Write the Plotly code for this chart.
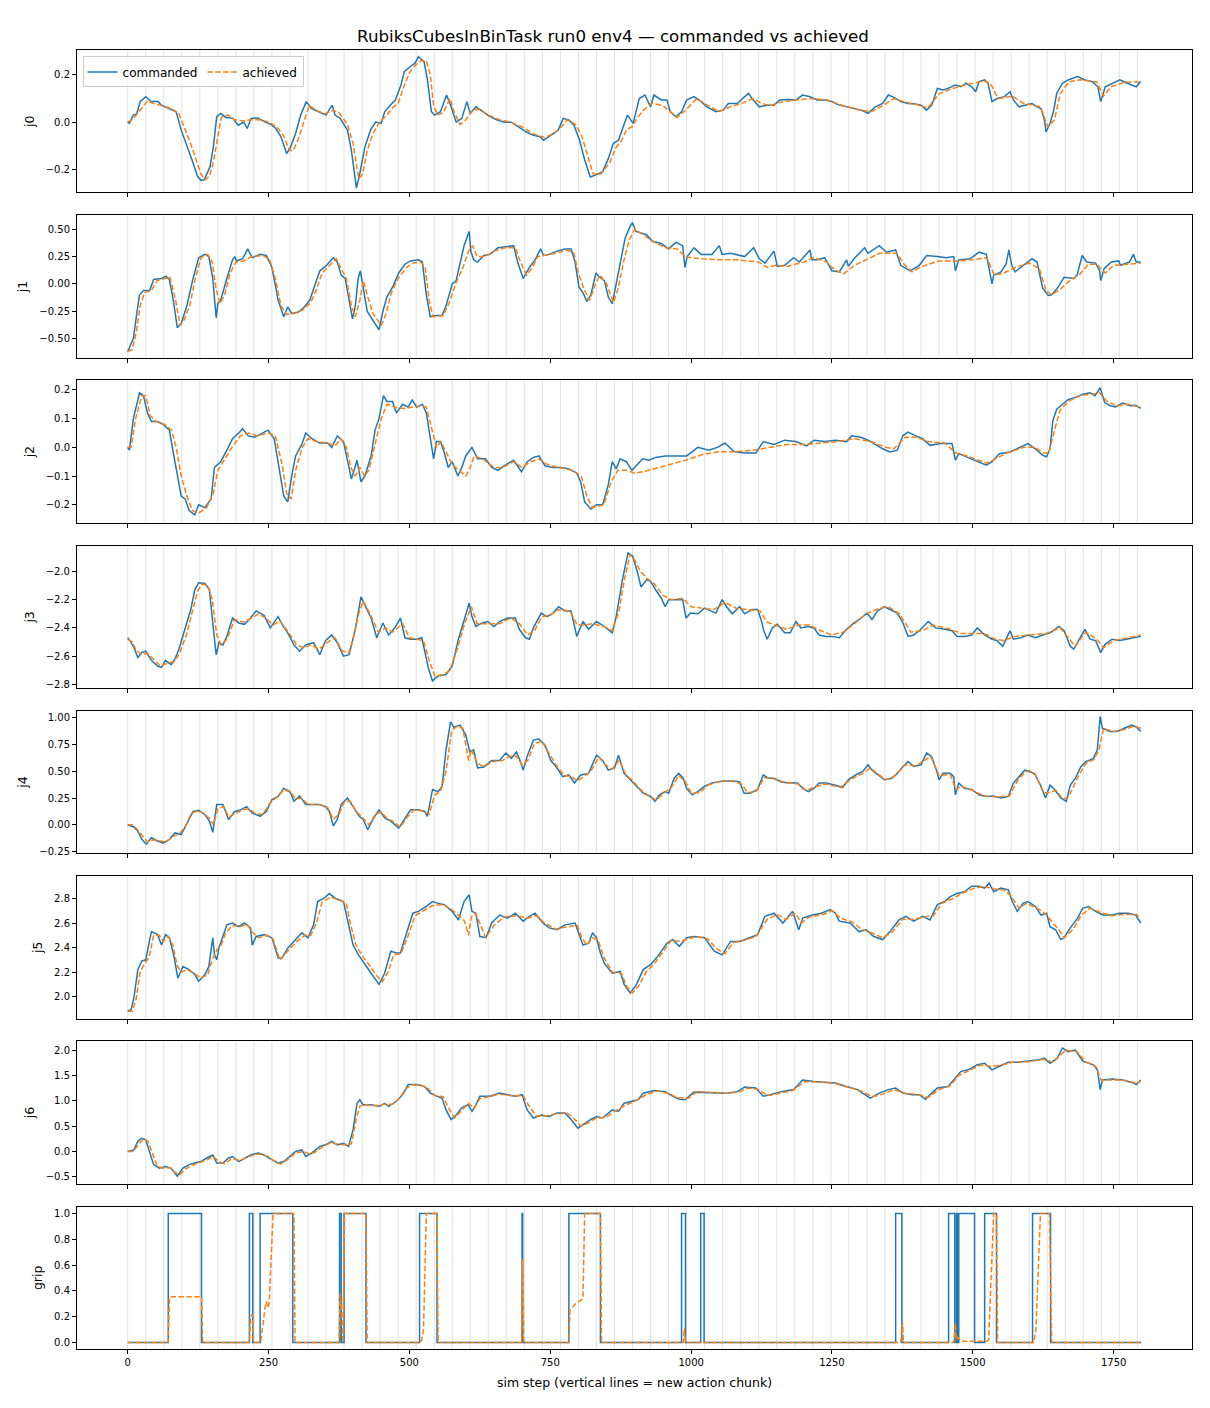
import plotly.graph_objects as go
from plotly.subplots import make_subplots

# sim steps where a new action chunk starts (every 32 steps)
chunk_starts = list(range(0, 1800, 32))

j0_steps = [0, 3, 10, 16, 22, 32, 41, 54, 60, 73, 86, 95, 105, 114, 124, 130, 136, 146, 152, 158, 165, 174, 187, 196, 206, 212, 219, 231, 244, 253, 263, 272, 282, 288, 298, 307, 317, 326, 339, 352, 363, 368, 377, 390, 397, 406, 412, 421, 431, 440, 450, 456, 466, 475, 485, 491, 501, 510, 516, 526, 532, 539, 545, 555, 566, 573, 583, 593, 602, 608, 618, 631, 643, 656, 669, 681, 694, 707, 719, 732, 738, 751, 764, 773, 783, 792, 802, 811, 821, 830, 843, 853, 862, 871, 881, 887, 897, 908, 918, 928, 934, 947, 957, 963, 973, 983, 992, 1005, 1018, 1028, 1044, 1057, 1066, 1082, 1095, 1102, 1108, 1121, 1134, 1147, 1157, 1173, 1186, 1198, 1211, 1224, 1237, 1250, 1263, 1276, 1289, 1302, 1314, 1327, 1340, 1350, 1360, 1372, 1385, 1398, 1408, 1418, 1427, 1437, 1447, 1456, 1469, 1479, 1488, 1498, 1505, 1511, 1521, 1527, 1534, 1543, 1556, 1566, 1572, 1582, 1592, 1605, 1614, 1621, 1627, 1630, 1637, 1643, 1649, 1659, 1669, 1686, 1699, 1712, 1722, 1727, 1735, 1748, 1761, 1774, 1784, 1790, 1798]
j0_cmd = [0.0, -0.005, 0.03, 0.035, 0.087, 0.108, 0.087, 0.087, 0.072, 0.058, 0.044, -0.034, -0.098, -0.16, -0.23, -0.247, -0.244, -0.19, -0.105, 0.023, 0.037, 0.02, 0.016, -0.013, 0.0, -0.027, 0.016, 0.018, 0.0, -0.008, -0.027, -0.062, -0.133, -0.112, -0.048, 0.03, 0.087, 0.058, 0.044, 0.03, 0.072, 0.03, 0.016, -0.034, -0.12, -0.28, -0.218, -0.105, -0.034, 0.0, -0.005, 0.044, 0.072, 0.094, 0.157, 0.214, 0.235, 0.25, 0.278, 0.257, 0.179, 0.044, 0.03, 0.044, 0.115, 0.072, 0.0, 0.016, 0.087, 0.037, 0.065, 0.044, 0.023, 0.009, 0.0, 0.0, -0.02, -0.041, -0.055, -0.062, -0.077, -0.055, -0.034, 0.016, 0.009, -0.013, -0.077, -0.16, -0.233, -0.225, -0.21, -0.155, -0.09, -0.077, -0.013, 0.03, -0.005, 0.1, 0.115, 0.065, 0.115, 0.094, 0.094, 0.044, 0.023, 0.044, 0.094, 0.108, 0.087, 0.065, 0.044, 0.051, 0.079, 0.079, 0.108, 0.122, 0.1, 0.065, 0.072, 0.072, 0.094, 0.096, 0.094, 0.115, 0.108, 0.094, 0.094, 0.087, 0.072, 0.065, 0.058, 0.051, 0.037, 0.065, 0.079, 0.115, 0.105, 0.087, 0.079, 0.077, 0.072, 0.051, 0.072, 0.143, 0.136, 0.143, 0.157, 0.15, 0.165, 0.15, 0.129, 0.172, 0.179, 0.165, 0.087, 0.1, 0.108, 0.129, 0.094, 0.065, 0.072, 0.079, 0.065, 0.058, 0.009, -0.041, -0.006, 0.044, 0.122, 0.165, 0.179, 0.193, 0.179, 0.172, 0.15, 0.087, 0.15, 0.165, 0.179, 0.165, 0.157, 0.15, 0.172]
j0_ach_steps = [0, 8, 15, 25, 35, 45, 60, 75, 90, 100, 110, 120, 130, 137, 145, 152, 160, 166, 178, 190, 205, 220, 235, 250, 265, 277, 287, 294, 303, 312, 322, 335, 350, 365, 375, 390, 400, 410, 417, 425, 435, 447, 460, 470, 480, 490, 500, 510, 520, 530, 537, 543, 550, 560, 572, 580, 590, 600, 612, 625, 640, 660, 680, 700, 720, 740, 755, 770, 780, 795, 806, 816, 826, 840, 856, 866, 876, 886, 895, 905, 915, 930, 950, 965, 975, 990, 1010, 1030, 1050, 1070, 1090, 1110, 1125, 1140, 1160, 1190, 1210, 1240, 1270, 1300, 1320, 1340, 1360, 1380, 1400, 1420, 1440, 1460, 1490, 1520, 1532, 1545, 1570, 1590, 1620, 1633, 1645, 1655, 1670, 1690, 1720, 1732, 1745, 1770, 1798]
j0_ach = [0.0, 0.01, 0.03, 0.06, 0.09, 0.08, 0.07, 0.06, 0.04, -0.02, -0.08, -0.15, -0.22, -0.245, -0.23, -0.17, -0.06, 0.02, 0.03, 0.01, 0.005, 0.01, 0.01, 0.0, -0.02, -0.06, -0.12, -0.12, -0.07, 0.0, 0.07, 0.05, 0.035, 0.05, 0.04, -0.01, -0.09, -0.24, -0.22, -0.12, -0.05, 0.0, 0.03, 0.06, 0.08, 0.15, 0.21, 0.24, 0.26, 0.26, 0.2, 0.07, 0.03, 0.04, 0.1, 0.04, -0.01, 0.01, 0.05, 0.055, 0.03, 0.01, 0.0, -0.02, -0.05, -0.065, -0.05, -0.02, 0.01, -0.01, -0.06, -0.14, -0.22, -0.22, -0.17, -0.11, -0.08, -0.03, -0.02, 0.02, 0.05, 0.08, 0.07, 0.04, 0.02, 0.05, 0.1, 0.07, 0.045, 0.065, 0.08, 0.1, 0.08, 0.07, 0.085, 0.095, 0.1, 0.095, 0.07, 0.05, 0.045, 0.07, 0.1, 0.085, 0.075, 0.06, 0.12, 0.14, 0.16, 0.175, 0.16, 0.1, 0.11, 0.08, 0.065, -0.02, 0.01, 0.12, 0.17, 0.18, 0.17, 0.11, 0.15, 0.17, 0.17]

j1_steps = [0, 10, 18, 21, 28, 39, 46, 60, 68, 74, 81, 88, 95, 105, 116, 126, 137, 144, 151, 157, 160, 165, 176, 186, 190, 193, 204, 213, 221, 235, 246, 256, 267, 277, 284, 291, 302, 312, 323, 330, 341, 351, 358, 365, 372, 379, 386, 393, 399, 404, 409, 413, 418, 425, 435, 446, 453, 460, 471, 481, 492, 502, 516, 523, 530, 537, 548, 558, 565, 576, 583, 590, 597, 606, 609, 614, 621, 632, 643, 657, 671, 685, 692, 702, 713, 723, 733, 738, 748, 762, 776, 787, 794, 801, 808, 815, 822, 831, 836, 846, 853, 860, 867, 874, 883, 892, 896, 902, 921, 931, 947, 960, 973, 985, 989, 993, 1005, 1018, 1037, 1050, 1055, 1070, 1095, 1111, 1121, 1131, 1147, 1153, 1166, 1182, 1192, 1211, 1214, 1224, 1237, 1250, 1263, 1276, 1279, 1289, 1308, 1314, 1334, 1347, 1363, 1372, 1389, 1405, 1418, 1437, 1453, 1466, 1469, 1475, 1495, 1511, 1524, 1534, 1537, 1550, 1559, 1564, 1569, 1575, 1592, 1605, 1614, 1624, 1634, 1640, 1650, 1662, 1679, 1685, 1694, 1702, 1718, 1725, 1727, 1733, 1746, 1759, 1762, 1778, 1785, 1790, 1798]
j1_cmd = [-0.62, -0.5, -0.2, -0.1, -0.06, -0.06, 0.04, 0.05, 0.07, 0.04, -0.15, -0.4, -0.36, -0.2, 0.05, 0.24, 0.27, 0.25, 0.05, -0.31, -0.18, -0.15, 0.05, 0.22, 0.25, 0.21, 0.23, 0.32, 0.24, 0.27, 0.26, 0.15, -0.15, -0.3, -0.21, -0.27, -0.26, -0.22, -0.15, -0.05, 0.12, 0.16, 0.2, 0.24, 0.2, 0.08, 0.05, -0.15, -0.32, -0.2, 0.05, 0.12, -0.05, -0.25, -0.33, -0.42, -0.25, -0.12, -0.02, 0.1, 0.18, 0.21, 0.22, 0.2, -0.1, -0.3, -0.29, -0.29, -0.2, 0.0, 0.03, 0.2, 0.35, 0.48, 0.3, 0.22, 0.2, 0.26, 0.27, 0.33, 0.34, 0.35, 0.2, 0.05, 0.15, 0.22, 0.32, 0.26, 0.27, 0.3, 0.32, 0.32, 0.2, -0.03, -0.08, -0.16, -0.1, 0.1, 0.07, 0.03, -0.12, -0.18, 0.0, 0.2, 0.42, 0.53, 0.56, 0.48, 0.45, 0.39, 0.37, 0.32, 0.38, 0.35, 0.15, 0.25, 0.33, 0.27, 0.27, 0.35, 0.27, 0.28, 0.25, 0.33, 0.23, 0.19, 0.3, 0.16, 0.17, 0.24, 0.2, 0.31, 0.22, 0.22, 0.24, 0.12, 0.11, 0.22, 0.16, 0.23, 0.33, 0.28, 0.35, 0.29, 0.31, 0.17, 0.12, 0.17, 0.26, 0.25, 0.24, 0.25, 0.12, 0.22, 0.23, 0.29, 0.27, 0.0, 0.08, 0.11, 0.18, 0.31, 0.17, 0.11, 0.18, 0.23, 0.2, -0.04, -0.105, -0.1, -0.04, 0.06, 0.05, 0.08, 0.26, 0.2, 0.19, 0.12, 0.03, 0.14, 0.2, 0.21, 0.17, 0.2, 0.27, 0.2, 0.2]
j1_ach_steps = [0, 8, 15, 22, 30, 42, 52, 65, 75, 85, 93, 100, 110, 120, 130, 142, 150, 157, 164, 172, 182, 192, 205, 220, 240, 252, 262, 272, 282, 295, 310, 325, 335, 345, 360, 370, 378, 388, 397, 404, 412, 418, 425, 435, 450, 458, 468, 480, 495, 505, 520, 528, 535, 542, 560, 570, 582, 595, 605, 612, 620, 635, 650, 670, 688, 697, 708, 718, 728, 740, 760, 780, 792, 800, 810, 820, 830, 838, 850, 862, 870, 880, 890, 900, 915, 935, 955, 975, 990, 1000, 1020, 1050, 1080, 1100, 1120, 1135, 1150, 1170, 1200, 1218, 1240, 1255, 1270, 1290, 1310, 1335, 1350, 1365, 1378, 1392, 1410, 1440, 1470, 1500, 1525, 1538, 1555, 1575, 1600, 1618, 1630, 1640, 1655, 1670, 1690, 1705, 1720, 1735, 1750, 1775, 1798]
j1_ach = [-0.62, -0.6, -0.45, -0.2, -0.08, -0.06, 0.03, 0.05, 0.06, -0.15, -0.38, -0.33, -0.2, 0.05, 0.24, 0.27, 0.2, -0.05, -0.18, -0.1, 0.1, 0.2, 0.21, 0.25, 0.26, 0.22, 0.05, -0.2, -0.28, -0.27, -0.24, -0.17, -0.05, 0.1, 0.18, 0.23, 0.15, 0.05, -0.2, -0.3, -0.15, 0.03, -0.1, -0.27, -0.38, -0.28, -0.08, 0.05, 0.15, 0.19, 0.2, 0.15, -0.15, -0.3, -0.29, -0.18, 0.0, 0.15, 0.3, 0.35, 0.25, 0.25, 0.3, 0.33, 0.33, 0.2, 0.08, 0.15, 0.25, 0.26, 0.28, 0.31, 0.28, 0.1, -0.05, -0.15, 0.0, 0.08, 0.0, -0.17, -0.05, 0.2, 0.4, 0.5, 0.45, 0.38, 0.33, 0.32, 0.25, 0.24, 0.23, 0.22, 0.22, 0.21, 0.2, 0.15, 0.17, 0.16, 0.2, 0.24, 0.2, 0.13, 0.09, 0.17, 0.22, 0.28, 0.28, 0.28, 0.18, 0.11, 0.16, 0.21, 0.21, 0.22, 0.24, 0.08, 0.1, 0.15, 0.19, 0.14, -0.06, -0.1, -0.05, 0.02, 0.09, 0.18, 0.18, 0.1, 0.17, 0.18, 0.19]

j2_steps = [0, 3, 10, 21, 28, 35, 42, 53, 63, 74, 81, 88, 95, 102, 109, 119, 126, 137, 148, 154, 165, 176, 186, 197, 204, 214, 225, 235, 249, 260, 270, 277, 284, 291, 298, 309, 316, 327, 341, 355, 362, 372, 383, 390, 397, 402, 407, 414, 421, 432, 439, 446, 454, 460, 470, 477, 488, 498, 505, 513, 523, 530, 537, 543, 548, 555, 562, 569, 576, 586, 593, 600, 611, 621, 635, 646, 657, 671, 685, 699, 709, 720, 730, 741, 755, 769, 783, 797, 804, 811, 822, 832, 843, 853, 860, 867, 874, 885, 895, 905, 914, 925, 937, 954, 973, 992, 1012, 1031, 1047, 1060, 1076, 1095, 1115, 1128, 1147, 1166, 1186, 1205, 1218, 1237, 1256, 1276, 1285, 1301, 1314, 1327, 1340, 1353, 1366, 1376, 1385, 1398, 1411, 1424, 1443, 1463, 1469, 1475, 1488, 1501, 1514, 1524, 1534, 1547, 1566, 1579, 1592, 1598, 1611, 1624, 1631, 1637, 1642, 1649, 1656, 1669, 1682, 1695, 1708, 1717, 1726, 1734, 1744, 1753, 1766, 1779, 1789, 1798]
j2_cmd = [0.0, -0.01, 0.1, 0.19, 0.18, 0.12, 0.09, 0.09, 0.08, 0.06, -0.02, -0.1, -0.17, -0.18, -0.22, -0.235, -0.2, -0.21, -0.18, -0.07, -0.05, -0.01, 0.03, 0.05, 0.065, 0.04, 0.035, 0.045, 0.06, 0.03, -0.08, -0.17, -0.19, -0.1, -0.03, 0.01, 0.05, 0.03, 0.015, 0.015, 0.0, 0.04, 0.02, -0.04, -0.11, -0.08, -0.045, -0.12, -0.1, -0.03, 0.06, 0.1, 0.18, 0.16, 0.16, 0.12, 0.15, 0.14, 0.165, 0.14, 0.15, 0.12, 0.03, -0.04, 0.02, 0.02, -0.02, -0.07, -0.05, -0.1, -0.07, -0.03, 0.0, -0.04, -0.04, -0.07, -0.08, -0.06, -0.045, -0.085, -0.05, -0.035, -0.03, -0.065, -0.07, -0.07, -0.075, -0.09, -0.12, -0.19, -0.215, -0.2, -0.2, -0.13, -0.05, -0.075, -0.04, -0.05, -0.08, -0.06, -0.04, -0.045, -0.035, -0.03, -0.03, -0.03, 0.0, -0.01, 0.0, 0.015, -0.015, -0.02, -0.02, 0.02, 0.01, 0.025, 0.02, 0.005, 0.025, 0.02, 0.025, 0.02, 0.04, 0.035, 0.025, 0.01, -0.005, -0.016, -0.01, 0.041, 0.053, 0.041, 0.03, 0.007, 0.013, 0.013, -0.045, -0.022, -0.033, -0.045, -0.056, -0.062, -0.05, -0.022, -0.016, -0.005, 0.007, 0.013, -0.005, -0.028, -0.033, -0.005, 0.093, 0.133, 0.145, 0.166, 0.174, 0.185, 0.19, 0.18, 0.208, 0.156, 0.145, 0.141, 0.154, 0.145, 0.147, 0.136]
j2_ach_steps = [0, 6, 14, 25, 32, 40, 50, 65, 78, 86, 95, 105, 115, 125, 140, 152, 160, 172, 185, 200, 215, 230, 250, 262, 274, 282, 290, 298, 310, 320, 335, 355, 368, 378, 388, 396, 404, 412, 420, 428, 438, 450, 460, 475, 490, 505, 520, 530, 540, 548, 556, 566, 576, 588, 600, 606, 615, 630, 650, 665, 685, 700, 715, 730, 745, 765, 790, 805, 815, 825, 845, 858, 870, 885, 900, 915, 935, 960, 990, 1020, 1050, 1080, 1110, 1140, 1170, 1200, 1230, 1260, 1290, 1320, 1345, 1360, 1380, 1400, 1420, 1450, 1470, 1490, 1510, 1525, 1540, 1560, 1590, 1610, 1625, 1635, 1645, 1655, 1670, 1690, 1710, 1725, 1738, 1755, 1775, 1798]
j2_ach = [0.0, 0.0, 0.1, 0.18, 0.18, 0.11, 0.09, 0.08, 0.06, 0.0, -0.1, -0.17, -0.22, -0.23, -0.21, -0.16, -0.08, -0.04, 0.0, 0.04, 0.05, 0.04, 0.05, 0.04, -0.06, -0.16, -0.18, -0.08, 0.0, 0.03, 0.02, 0.015, 0.005, 0.03, 0.0, -0.07, -0.1, -0.07, -0.1, -0.08, 0.0, 0.1, 0.15, 0.14, 0.135, 0.14, 0.145, 0.14, 0.06, 0.0, 0.02, -0.02, -0.06, -0.08, -0.1, -0.08, -0.03, -0.04, -0.07, -0.07, -0.05, -0.07, -0.05, -0.04, -0.06, -0.07, -0.08, -0.1, -0.17, -0.21, -0.2, -0.12, -0.08, -0.08, -0.09, -0.085, -0.075, -0.06, -0.045, -0.025, -0.015, -0.015, -0.01, 0.0, 0.01, 0.01, 0.015, 0.02, 0.03, 0.02, 0.0, -0.005, 0.035, 0.035, 0.02, 0.015, -0.02, -0.03, -0.045, -0.055, -0.04, -0.02, 0.0, 0.0, -0.02, -0.02, 0.06, 0.13, 0.16, 0.18, 0.185, 0.19, 0.16, 0.145, 0.15, 0.14]

j3_steps = [0, 4, 11, 18, 25, 32, 42, 53, 60, 67, 77, 84, 91, 102, 112, 119, 126, 137, 145, 151, 157, 162, 169, 176, 186, 197, 207, 218, 228, 242, 253, 267, 274, 284, 295, 305, 316, 330, 341, 351, 362, 372, 383, 393, 404, 414, 421, 432, 442, 453, 463, 474, 484, 492, 502, 513, 522, 529, 534, 541, 551, 565, 576, 587, 597, 606, 611, 618, 629, 639, 650, 660, 674, 688, 695, 706, 713, 720, 734, 744, 755, 765, 776, 787, 797, 808, 818, 832, 846, 860, 867, 878, 888, 896, 905, 911, 921, 928, 937, 947, 954, 960, 973, 985, 991, 999, 1012, 1024, 1044, 1055, 1063, 1073, 1086, 1095, 1108, 1118, 1124, 1129, 1135, 1144, 1153, 1166, 1176, 1186, 1195, 1208, 1218, 1227, 1240, 1250, 1263, 1276, 1289, 1302, 1312, 1321, 1331, 1343, 1353, 1366, 1376, 1385, 1395, 1405, 1421, 1434, 1450, 1463, 1472, 1485, 1498, 1508, 1521, 1534, 1543, 1553, 1559, 1566, 1572, 1585, 1598, 1611, 1624, 1637, 1653, 1662, 1673, 1679, 1689, 1699, 1708, 1718, 1727, 1734, 1747, 1760, 1773, 1786, 1798]
j3_cmd = [-2.47, -2.49, -2.54, -2.61, -2.575, -2.565, -2.63, -2.67, -2.68, -2.63, -2.66, -2.62, -2.55, -2.41, -2.27, -2.13, -2.08, -2.085, -2.13, -2.365, -2.59, -2.505, -2.52, -2.46, -2.33, -2.365, -2.375, -2.33, -2.28, -2.31, -2.4, -2.32, -2.375, -2.435, -2.52, -2.565, -2.52, -2.505, -2.59, -2.49, -2.45, -2.505, -2.6, -2.59, -2.41, -2.18, -2.24, -2.33, -2.47, -2.365, -2.45, -2.4, -2.33, -2.47, -2.48, -2.48, -2.47, -2.6, -2.69, -2.775, -2.74, -2.73, -2.67, -2.48, -2.34, -2.225, -2.32, -2.39, -2.365, -2.355, -2.39, -2.355, -2.33, -2.33, -2.41, -2.47, -2.48, -2.4, -2.295, -2.32, -2.295, -2.25, -2.28, -2.28, -2.46, -2.355, -2.41, -2.355, -2.39, -2.435, -2.32, -2.06, -1.87, -1.89, -2.01, -2.11, -2.06, -2.07, -2.13, -2.19, -2.25, -2.2, -2.2, -2.2, -2.33, -2.295, -2.3, -2.26, -2.295, -2.2, -2.25, -2.3, -2.25, -2.3, -2.27, -2.27, -2.34, -2.42, -2.48, -2.4, -2.375, -2.435, -2.435, -2.355, -2.4, -2.39, -2.4, -2.45, -2.46, -2.46, -2.47, -2.41, -2.365, -2.33, -2.295, -2.34, -2.28, -2.25, -2.27, -2.295, -2.365, -2.46, -2.45, -2.42, -2.355, -2.4, -2.41, -2.42, -2.46, -2.46, -2.45, -2.4, -2.45, -2.48, -2.49, -2.53, -2.48, -2.42, -2.48, -2.47, -2.45, -2.47, -2.45, -2.435, -2.39, -2.42, -2.53, -2.55, -2.48, -2.41, -2.48, -2.49, -2.575, -2.52, -2.48, -2.49, -2.48, -2.47, -2.46]
j3_ach_steps = [0, 8, 15, 25, 35, 45, 58, 70, 82, 92, 105, 115, 124, 132, 142, 150, 158, 166, 176, 190, 205, 220, 232, 245, 258, 270, 285, 300, 312, 325, 340, 355, 368, 380, 392, 400, 410, 418, 430, 445, 458, 470, 488, 500, 515, 525, 535, 545, 560, 572, 585, 598, 610, 620, 640, 660, 680, 695, 710, 722, 735, 750, 765, 785, 798, 810, 825, 845, 860, 872, 882, 892, 900, 910, 922, 935, 950, 965, 985, 1000, 1020, 1040, 1060, 1080, 1100, 1122, 1135, 1150, 1170, 1190, 1210, 1230, 1250, 1270, 1290, 1310, 1335, 1350, 1370, 1390, 1410, 1430, 1460, 1480, 1500, 1520, 1540, 1555, 1575, 1600, 1630, 1655, 1670, 1682, 1700, 1720, 1732, 1750, 1775, 1798]
j3_ach = [-2.48, -2.5, -2.56, -2.59, -2.58, -2.62, -2.67, -2.65, -2.64, -2.58, -2.44, -2.28, -2.14, -2.09, -2.1, -2.2, -2.45, -2.52, -2.48, -2.34, -2.36, -2.33, -2.3, -2.33, -2.38, -2.35, -2.43, -2.52, -2.54, -2.52, -2.55, -2.5, -2.47, -2.56, -2.58, -2.48, -2.3, -2.21, -2.3, -2.43, -2.4, -2.43, -2.37, -2.47, -2.48, -2.49, -2.63, -2.74, -2.73, -2.7, -2.55, -2.37, -2.25, -2.37, -2.37, -2.37, -2.33, -2.37, -2.45, -2.42, -2.32, -2.31, -2.27, -2.28, -2.38, -2.38, -2.37, -2.39, -2.42, -2.28, -2.05, -1.88, -1.92, -2.0, -2.05, -2.09, -2.17, -2.2, -2.19, -2.25, -2.26, -2.27, -2.22, -2.26, -2.27, -2.28, -2.36, -2.38, -2.41, -2.38, -2.38, -2.42, -2.45, -2.43, -2.37, -2.3, -2.26, -2.25, -2.3, -2.43, -2.42, -2.38, -2.41, -2.44, -2.44, -2.44, -2.48, -2.49, -2.46, -2.45, -2.44, -2.4, -2.47, -2.53, -2.43, -2.48, -2.54, -2.49, -2.47, -2.45]

j4_steps = [0, 11, 18, 25, 33, 42, 53, 63, 74, 84, 95, 105, 116, 126, 137, 145, 151, 158, 169, 179, 190, 200, 211, 221, 235, 246, 256, 267, 277, 288, 295, 305, 316, 330, 341, 351, 358, 365, 372, 379, 390, 400, 411, 418, 426, 435, 446, 456, 467, 481, 492, 502, 516, 527, 532, 541, 551, 558, 565, 573, 579, 590, 600, 607, 614, 621, 632, 646, 660, 671, 681, 690, 697, 702, 709, 720, 730, 741, 751, 762, 772, 783, 793, 804, 818, 832, 843, 853, 864, 871, 881, 889, 902, 915, 928, 936, 944, 954, 960, 970, 978, 986, 992, 1002, 1012, 1024, 1037, 1057, 1076, 1086, 1094, 1105, 1118, 1128, 1137, 1147, 1160, 1173, 1189, 1198, 1208, 1218, 1227, 1240, 1256, 1269, 1279, 1292, 1305, 1314, 1321, 1331, 1343, 1356, 1366, 1376, 1385, 1395, 1408, 1418, 1427, 1436, 1440, 1447, 1460, 1466, 1469, 1475, 1485, 1498, 1511, 1524, 1537, 1550, 1563, 1572, 1582, 1592, 1601, 1611, 1621, 1629, 1637, 1645, 1656, 1666, 1673, 1682, 1692, 1701, 1714, 1721, 1726, 1730, 1743, 1756, 1769, 1782, 1791, 1798]
j4_cmd = [0.0, -0.02, -0.06, -0.135, -0.18, -0.12, -0.15, -0.17, -0.135, -0.075, -0.09, 0.02, 0.125, 0.135, 0.095, 0.035, -0.07, 0.19, 0.19, 0.05, 0.125, 0.14, 0.17, 0.11, 0.08, 0.125, 0.235, 0.265, 0.34, 0.31, 0.22, 0.27, 0.19, 0.19, 0.19, 0.17, 0.125, -0.01, 0.05, 0.19, 0.25, 0.17, 0.08, 0.05, -0.045, 0.05, 0.14, 0.065, 0.035, -0.03, 0.065, 0.14, 0.14, 0.125, 0.08, 0.33, 0.31, 0.36, 0.7, 0.96, 0.91, 0.93, 0.84, 0.68, 0.7, 0.53, 0.54, 0.6, 0.6, 0.67, 0.62, 0.68, 0.59, 0.51, 0.64, 0.79, 0.8, 0.74, 0.6, 0.53, 0.45, 0.465, 0.39, 0.465, 0.48, 0.65, 0.6, 0.51, 0.53, 0.65, 0.48, 0.435, 0.37, 0.295, 0.265, 0.22, 0.28, 0.31, 0.295, 0.435, 0.48, 0.435, 0.34, 0.28, 0.31, 0.36, 0.39, 0.41, 0.41, 0.4, 0.295, 0.295, 0.33, 0.465, 0.435, 0.435, 0.4, 0.39, 0.39, 0.34, 0.31, 0.34, 0.39, 0.39, 0.37, 0.35, 0.42, 0.465, 0.5, 0.56, 0.51, 0.465, 0.42, 0.435, 0.48, 0.545, 0.59, 0.545, 0.56, 0.67, 0.635, 0.5, 0.42, 0.48, 0.48, 0.45, 0.28, 0.39, 0.34, 0.33, 0.28, 0.265, 0.27, 0.25, 0.265, 0.39, 0.45, 0.51, 0.5, 0.465, 0.36, 0.25, 0.37, 0.33, 0.25, 0.22, 0.37, 0.435, 0.545, 0.59, 0.62, 0.7, 1.01, 0.9, 0.87, 0.87, 0.9, 0.93, 0.91, 0.87]
j4_ach_steps = [0, 8, 15, 25, 35, 45, 58, 68, 80, 92, 102, 112, 122, 135, 145, 152, 160, 170, 180, 192, 205, 215, 228, 240, 252, 265, 278, 290, 298, 308, 320, 340, 355, 365, 375, 385, 395, 405, 418, 428, 440, 450, 460, 472, 484, 496, 508, 525, 535, 545, 555, 565, 575, 585, 595, 605, 610, 620, 632, 648, 665, 678, 690, 700, 710, 722, 735, 748, 760, 775, 788, 798, 810, 822, 836, 848, 860, 872, 885, 895, 910, 925, 938, 950, 965, 978, 990, 1000, 1015, 1030, 1045, 1070, 1090, 1100, 1115, 1130, 1145, 1165, 1190, 1205, 1222, 1240, 1265, 1285, 1305, 1318, 1330, 1345, 1360, 1380, 1400, 1415, 1425, 1440, 1460, 1470, 1480, 1500, 1520, 1545, 1565, 1580, 1595, 1610, 1625, 1635, 1648, 1660, 1670, 1685, 1700, 1715, 1724, 1732, 1750, 1770, 1785, 1798]
j4_ach = [0.0, 0.0, -0.03, -0.1, -0.16, -0.14, -0.15, -0.16, -0.11, -0.08, -0.02, 0.1, 0.13, 0.11, 0.06, 0.0, 0.15, 0.17, 0.07, 0.11, 0.14, 0.15, 0.1, 0.1, 0.2, 0.26, 0.33, 0.3, 0.24, 0.25, 0.19, 0.19, 0.16, 0.05, 0.1, 0.22, 0.22, 0.13, 0.06, 0.0, 0.1, 0.12, 0.06, 0.03, -0.02, 0.07, 0.14, 0.13, 0.1, 0.28, 0.31, 0.5, 0.88, 0.92, 0.9, 0.6, 0.7, 0.58, 0.54, 0.59, 0.6, 0.64, 0.64, 0.56, 0.6, 0.76, 0.78, 0.66, 0.56, 0.46, 0.45, 0.41, 0.45, 0.5, 0.63, 0.56, 0.52, 0.6, 0.46, 0.42, 0.33, 0.27, 0.23, 0.29, 0.35, 0.46, 0.4, 0.3, 0.3, 0.37, 0.4, 0.41, 0.38, 0.3, 0.31, 0.44, 0.43, 0.4, 0.38, 0.32, 0.36, 0.38, 0.35, 0.43, 0.48, 0.53, 0.48, 0.42, 0.45, 0.56, 0.55, 0.6, 0.64, 0.46, 0.47, 0.33, 0.36, 0.32, 0.27, 0.26, 0.27, 0.42, 0.5, 0.48, 0.3, 0.3, 0.32, 0.24, 0.26, 0.43, 0.57, 0.61, 0.7, 0.9, 0.87, 0.89, 0.92, 0.9]

j5_steps = [0, 6, 11, 18, 25, 32, 35, 42, 53, 60, 67, 74, 82, 89, 98, 109, 119, 126, 137, 144, 151, 154, 158, 162, 169, 176, 186, 197, 207, 218, 221, 228, 242, 256, 267, 274, 284, 298, 309, 320, 330, 337, 348, 358, 369, 383, 390, 400, 411, 421, 432, 446, 456, 467, 477, 484, 495, 506, 516, 530, 541, 551, 562, 576, 587, 597, 606, 611, 618, 625, 636, 646, 660, 674, 688, 702, 713, 723, 737, 748, 762, 776, 794, 801, 808, 818, 825, 832, 839, 846, 860, 874, 881, 892, 902, 915, 928, 941, 957, 967, 979, 992, 1005, 1024, 1041, 1055, 1070, 1086, 1102, 1118, 1131, 1147, 1163, 1173, 1180, 1191, 1198, 1215, 1231, 1247, 1256, 1263, 1282, 1298, 1311, 1324, 1340, 1353, 1369, 1381, 1395, 1411, 1424, 1437, 1450, 1460, 1472, 1485, 1498, 1511, 1521, 1529, 1537, 1550, 1563, 1570, 1579, 1589, 1598, 1611, 1621, 1631, 1637, 1647, 1656, 1662, 1673, 1686, 1695, 1705, 1718, 1731, 1747, 1760, 1776, 1789, 1798]
j5_cmd = [1.88, 1.895, 1.99, 2.22, 2.29, 2.3, 2.37, 2.53, 2.505, 2.42, 2.505, 2.48, 2.33, 2.15, 2.245, 2.22, 2.18, 2.125, 2.18, 2.245, 2.48, 2.34, 2.3, 2.4, 2.49, 2.585, 2.6, 2.57, 2.6, 2.56, 2.42, 2.49, 2.505, 2.48, 2.315, 2.315, 2.395, 2.465, 2.52, 2.48, 2.585, 2.775, 2.8, 2.84, 2.8, 2.775, 2.625, 2.42, 2.33, 2.26, 2.19, 2.1, 2.19, 2.37, 2.355, 2.355, 2.52, 2.68, 2.695, 2.735, 2.775, 2.76, 2.75, 2.695, 2.625, 2.775, 2.83, 2.695, 2.68, 2.49, 2.48, 2.6, 2.665, 2.64, 2.68, 2.615, 2.655, 2.68, 2.6, 2.56, 2.545, 2.585, 2.6, 2.505, 2.42, 2.435, 2.52, 2.48, 2.355, 2.27, 2.19, 2.205, 2.1, 2.03, 2.09, 2.22, 2.26, 2.33, 2.435, 2.465, 2.41, 2.48, 2.49, 2.48, 2.37, 2.34, 2.45, 2.45, 2.48, 2.505, 2.655, 2.68, 2.6, 2.655, 2.695, 2.545, 2.64, 2.665, 2.68, 2.71, 2.68, 2.615, 2.6, 2.53, 2.545, 2.49, 2.465, 2.53, 2.625, 2.655, 2.615, 2.655, 2.625, 2.75, 2.775, 2.815, 2.84, 2.855, 2.9, 2.9, 2.885, 2.925, 2.855, 2.885, 2.87, 2.775, 2.695, 2.76, 2.775, 2.735, 2.665, 2.68, 2.57, 2.545, 2.465, 2.48, 2.56, 2.64, 2.72, 2.735, 2.695, 2.665, 2.665, 2.68, 2.68, 2.665, 2.6]
j5_ach_steps = [0, 8, 15, 22, 30, 38, 46, 56, 63, 72, 80, 88, 95, 105, 118, 130, 142, 150, 158, 166, 174, 186, 200, 212, 222, 232, 248, 258, 270, 282, 300, 315, 325, 335, 345, 360, 375, 388, 395, 405, 418, 430, 440, 452, 462, 472, 485, 498, 510, 525, 540, 560, 575, 590, 597, 602, 605, 610, 617, 625, 635, 650, 668, 690, 710, 725, 740, 760, 780, 798, 806, 815, 825, 835, 845, 860, 876, 886, 896, 906, 920, 935, 950, 965, 980, 995, 1010, 1030, 1045, 1060, 1075, 1095, 1115, 1135, 1152, 1168, 1185, 1196, 1210, 1235, 1250, 1265, 1285, 1302, 1320, 1340, 1358, 1375, 1395, 1415, 1430, 1445, 1465, 1480, 1500, 1520, 1535, 1555, 1568, 1582, 1595, 1615, 1630, 1642, 1652, 1662, 1678, 1692, 1708, 1725, 1745, 1770, 1790, 1798]
j5_ach = [1.88, 1.88, 1.98, 2.2, 2.27, 2.32, 2.5, 2.5, 2.45, 2.49, 2.42, 2.25, 2.2, 2.22, 2.19, 2.15, 2.18, 2.3, 2.38, 2.42, 2.52, 2.58, 2.57, 2.59, 2.52, 2.48, 2.5, 2.47, 2.3, 2.36, 2.45, 2.5, 2.5, 2.6, 2.77, 2.81, 2.79, 2.76, 2.6, 2.42, 2.32, 2.25, 2.18, 2.12, 2.2, 2.34, 2.35, 2.5, 2.66, 2.7, 2.74, 2.75, 2.71, 2.65, 2.62, 2.55, 2.5, 2.65, 2.68, 2.6, 2.48, 2.58, 2.65, 2.66, 2.64, 2.66, 2.6, 2.55, 2.57, 2.58, 2.48, 2.42, 2.48, 2.46, 2.32, 2.2, 2.19, 2.08, 2.03, 2.08, 2.2, 2.27, 2.37, 2.46, 2.45, 2.47, 2.49, 2.47, 2.39, 2.35, 2.44, 2.46, 2.49, 2.63, 2.67, 2.63, 2.68, 2.6, 2.65, 2.67, 2.7, 2.64, 2.61, 2.55, 2.52, 2.48, 2.53, 2.63, 2.63, 2.65, 2.66, 2.76, 2.8, 2.84, 2.88, 2.9, 2.88, 2.87, 2.82, 2.72, 2.76, 2.72, 2.67, 2.6, 2.55, 2.48, 2.55, 2.66, 2.72, 2.69, 2.66, 2.67, 2.67, 2.64]

j6_steps = [0, 11, 18, 25, 32, 39, 46, 56, 67, 77, 88, 98, 109, 119, 130, 140, 151, 158, 169, 179, 186, 197, 207, 218, 232, 242, 256, 267, 277, 288, 298, 309, 316, 327, 341, 351, 362, 372, 383, 392, 400, 407, 412, 418, 432, 446, 456, 463, 477, 488, 498, 513, 527, 537, 548, 558, 565, 574, 583, 593, 604, 611, 618, 625, 643, 660, 674, 688, 700, 709, 720, 734, 748, 762, 776, 787, 799, 808, 822, 832, 843, 860, 871, 881, 895, 906, 915, 934, 954, 967, 979, 989, 1005, 1024, 1044, 1063, 1082, 1095, 1115, 1128, 1140, 1160, 1182, 1198, 1218, 1237, 1256, 1276, 1295, 1318, 1334, 1350, 1363, 1376, 1392, 1405, 1416, 1427, 1437, 1456, 1469, 1479, 1492, 1508, 1521, 1534, 1547, 1563, 1579, 1598, 1618, 1627, 1637, 1650, 1659, 1669, 1682, 1695, 1714, 1721, 1726, 1730, 1747, 1766, 1786, 1790, 1798]
j6_cmd = [0.0, 0.03, 0.2, 0.26, 0.23, -0.03, -0.26, -0.33, -0.3, -0.33, -0.49, -0.33, -0.26, -0.23, -0.2, -0.13, -0.07, -0.23, -0.23, -0.13, -0.1, -0.2, -0.13, -0.07, -0.03, -0.07, -0.16, -0.23, -0.2, -0.1, 0.0, 0.03, -0.1, -0.03, 0.1, 0.13, 0.2, 0.13, 0.16, 0.1, 0.43, 0.95, 1.02, 0.92, 0.92, 0.89, 0.95, 0.89, 0.99, 1.12, 1.32, 1.32, 1.28, 1.15, 1.09, 1.05, 0.82, 0.63, 0.72, 0.86, 0.92, 0.79, 0.92, 1.09, 1.09, 1.15, 1.12, 1.09, 1.12, 0.82, 0.66, 0.72, 0.69, 0.76, 0.76, 0.63, 0.46, 0.53, 0.63, 0.69, 0.66, 0.82, 0.79, 0.95, 0.99, 1.02, 1.15, 1.2, 1.18, 1.09, 1.03, 1.02, 1.17, 1.16, 1.15, 1.15, 1.18, 1.27, 1.25, 1.09, 1.12, 1.18, 1.22, 1.41, 1.38, 1.36, 1.35, 1.28, 1.22, 1.05, 1.15, 1.22, 1.25, 1.15, 1.12, 1.12, 1.03, 1.15, 1.25, 1.28, 1.45, 1.58, 1.61, 1.71, 1.74, 1.61, 1.68, 1.76, 1.76, 1.78, 1.81, 1.84, 1.74, 1.84, 2.04, 1.97, 2.0, 1.78, 1.71, 1.61, 1.22, 1.41, 1.43, 1.41, 1.35, 1.32, 1.41]
j6_ach_steps = [0, 10, 20, 28, 36, 44, 52, 62, 75, 85, 92, 102, 115, 128, 140, 152, 162, 172, 185, 200, 215, 232, 248, 262, 272, 285, 298, 312, 322, 332, 346, 360, 375, 388, 397, 405, 412, 425, 440, 455, 470, 482, 495, 505, 520, 532, 545, 560, 570, 580, 592, 605, 615, 625, 640, 660, 680, 702, 712, 725, 740, 760, 780, 792, 804, 815, 830, 850, 865, 885, 900, 920, 940, 960, 975, 995, 1010, 1035, 1060, 1085, 1100, 1120, 1135, 1150, 1180, 1202, 1225, 1255, 1280, 1300, 1322, 1340, 1360, 1380, 1405, 1420, 1440, 1460, 1475, 1495, 1515, 1530, 1550, 1570, 1600, 1625, 1642, 1655, 1665, 1685, 1700, 1718, 1728, 1740, 1765, 1790, 1798]
j6_ach = [0.0, 0.0, 0.15, 0.25, 0.2, -0.05, -0.28, -0.33, -0.32, -0.42, -0.47, -0.35, -0.27, -0.22, -0.17, -0.1, -0.2, -0.24, -0.14, -0.18, -0.1, -0.05, -0.09, -0.2, -0.25, -0.15, -0.03, 0.0, -0.05, -0.02, 0.09, 0.17, 0.14, 0.13, 0.15, 0.6, 0.9, 0.92, 0.9, 0.93, 0.93, 1.05, 1.25, 1.31, 1.31, 1.25, 1.1, 1.08, 0.85, 0.66, 0.8, 0.95, 0.85, 1.04, 1.08, 1.13, 1.1, 1.1, 0.9, 0.7, 0.7, 0.74, 0.76, 0.65, 0.5, 0.55, 0.65, 0.68, 0.8, 0.92, 0.99, 1.12, 1.19, 1.15, 1.06, 1.05, 1.18, 1.17, 1.15, 1.17, 1.25, 1.22, 1.1, 1.13, 1.2, 1.38, 1.37, 1.34, 1.27, 1.2, 1.08, 1.13, 1.22, 1.15, 1.12, 1.06, 1.22, 1.3, 1.5, 1.6, 1.71, 1.68, 1.7, 1.76, 1.77, 1.82, 1.76, 1.9, 2.0, 1.97, 1.77, 1.68, 1.4, 1.41, 1.41, 1.35, 1.38]

# gripper: commanded is a 0/1 signal, given as change points
grip_cmd_steps = [0, 72, 131, 216, 222, 235, 293, 376, 379, 384, 423, 518, 549, 700, 701, 783, 839, 983, 990, 1017, 1023, 1363, 1374, 1457, 1468, 1471, 1473, 1475, 1503, 1521, 1542, 1606, 1638, 1799]
grip_cmd = [0, 1, 0, 1, 0, 1, 0, 1, 0, 1, 0, 1, 0, 1, 0, 1, 0, 1, 0, 1, 0, 1, 0, 1, 0, 1, 0, 1, 0, 1, 0, 1, 0, 0]
grip_ach_steps = [0, 72, 74, 80, 131, 133, 216, 218, 221, 223, 236, 240, 244, 246, 249, 251, 253, 258, 295, 297, 375, 377, 379, 382, 385, 423, 425, 519, 522, 525, 530, 549, 551, 699, 701, 703, 783, 785, 795, 805, 808, 811, 839, 841, 986, 988, 990, 1372, 1375, 1377, 1466, 1469, 1471, 1473, 1480, 1525, 1528, 1537, 1542, 1544, 1608, 1612, 1620, 1636, 1640, 1799]
grip_ach = [0, 0, 0.35, 0.355, 0.355, 0, 0, 0.2, 0.22, 0, 0, 0.15, 0.28, 0.32, 0.27, 0.3, 0.5, 1.0, 1.0, 0, 0, 0.38, 0.3, 0, 1.0, 1.0, 0, 0, 0.02, 0.1, 1.0, 1.0, 0, 0, 0.65, 0, 0, 0.25, 0.3, 0.33, 0.34, 1.0, 1.0, 0, 0, 0.11, 0, 0, 0.15, 0, 0, 0.15, 0.02, 0.04, 0.01, 0.01, 0.02, 1.0, 1.0, 0, 0, 0.1, 1.0, 1.0, 0, 0]

panels = [
    ("j0", j0_steps, j0_cmd, j0_ach_steps, j0_ach, [-0.298, 0.306], [-0.2, 0.0, 0.2], ".1f"),
    ("j1", j1_steps, j1_cmd, j1_ach_steps, j1_ach, [-0.674, 0.628], [-0.5, -0.25, 0.0, 0.25, 0.5], ".2f"),
    ("j2", j2_steps, j2_cmd, j2_ach_steps, j2_ach, [-0.263, 0.233], [-0.2, -0.1, 0.0, 0.1, 0.2], ".1f"),
    ("j3", j3_steps, j3_cmd, j3_ach_steps, j3_ach, [-2.826, -1.818], [-2.8, -2.6, -2.4, -2.2, -2.0], ".1f"),
    ("j4", j4_steps, j4_cmd, j4_ach_steps, j4_ach, [-0.265, 1.062], [-0.25, 0.0, 0.25, 0.5, 0.75, 1.0], ".2f"),
    ("j5", j5_steps, j5_cmd, j5_ach_steps, j5_ach, [1.821, 2.982], [2.0, 2.2, 2.4, 2.6, 2.8], ".1f"),
    ("j6", j6_steps, j6_cmd, j6_ach_steps, j6_ach, [-0.638, 2.171], [-0.5, 0.0, 0.5, 1.0, 1.5, 2.0], ".1f"),
    ("grip", grip_cmd_steps, grip_cmd, grip_ach_steps, grip_ach, [-0.05, 1.054], [0.0, 0.2, 0.4, 0.6, 0.8, 1.0], ".1f"),
]

BLUE = "#1f77b4"
ORANGE = "#ff7f0e"
FONT = "DejaVu Sans"

fig = make_subplots(rows=8, cols=1, shared_xaxes=True, vertical_spacing=0.0176)

for i, (name, cs, cv, a_s, av, yr, yt, fmt) in enumerate(panels, start=1):
    fig.add_trace(go.Scatter(x=cs, y=cv, mode="lines", name="commanded",
                             line=dict(color=BLUE, width=1.5, shape="hv" if name == "grip" else "linear"),
                             showlegend=(i == 1), legendgroup="cmd"), row=i, col=1)
    fig.add_trace(go.Scatter(x=a_s, y=av, mode="lines", name="achieved",
                             line=dict(color=ORANGE, width=1.5, dash="5.5px,2.4px"),
                             showlegend=(i == 1), legendgroup="ach"), row=i, col=1)
    axis = "x" if i == 1 else f"x{i}"
    yaxis = "y" if i == 1 else f"y{i}"
    for s in chunk_starts:
        fig.add_shape(type="line", xref=axis, yref=f"{yaxis} domain", x0=s, x1=s, y0=0, y1=1,
                      line=dict(color="rgba(128,128,128,0.3)", width=0.8), layer="below")
    fig.update_yaxes(range=yr, tickvals=yt, tickformat=fmt, row=i, col=1,
                     title=dict(text=name, standoff=8, font=dict(size=12.5)))

fig.update_xaxes(range=[-90, 1889], tickvals=[0, 250, 500, 750, 1000, 1250, 1500, 1750],
                 showline=True, mirror=True, linecolor="black", linewidth=1,
                 ticks="outside", ticklen=4, tickwidth=1, tickcolor="black",
                 showgrid=False, zeroline=False, tickfont=dict(size=10))
fig.update_yaxes(showline=True, mirror=True, linecolor="black", linewidth=1,
                 ticks="outside", ticklen=4, tickwidth=1, tickcolor="black",
                 showgrid=False, zeroline=False, tickfont=dict(size=10))
fig.update_xaxes(title=dict(text="sim step (vertical lines = new action chunk)", standoff=11,
                            font=dict(size=12.5)), row=8, col=1)

# the page adds an 8px body margin, so the plot margins are shifted by 8px
fig.update_layout(
    width=1210, height=1408,
    margin=dict(l=69, r=26, t=42, b=67),
    paper_bgcolor="white", plot_bgcolor="white",
    font=dict(family=FONT, color="black"),
    title=dict(text="RubiksCubesInBinTask run0 env4 — commanded vs achieved",
               x=0.5, xanchor="center", y=1 - 28 / 1408, yanchor="middle",
               yref="container", font=dict(size=16.7)),
    legend=dict(orientation="h", x=0.005, y=0.995, xanchor="left", yanchor="top",
                bgcolor="rgba(255,255,255,0.8)", bordercolor="#cccccc", borderwidth=1,
                font=dict(size=12)),
)

fig.write_html("out.html")
